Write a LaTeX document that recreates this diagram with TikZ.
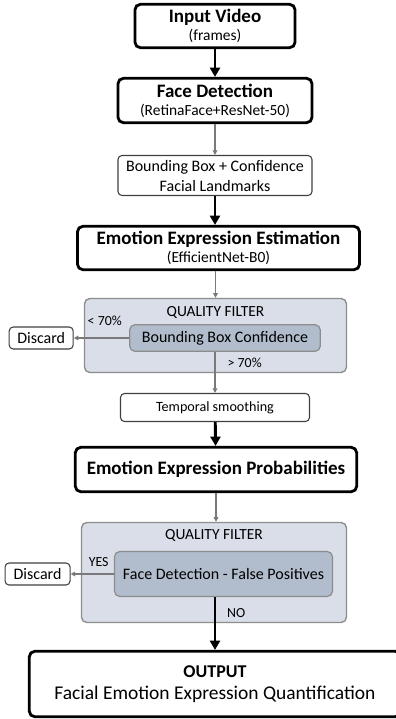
\documentclass[tikz,border=0pt]{standalone}
\usepackage{fontspec}
\setmainfont{Carlito}
\usetikzlibrary{arrows.meta, positioning}

\definecolor{filterfill}{HTML}{D9DEE8}
\definecolor{innerfill}{HTML}{B1BCCC}
\definecolor{filterline}{HTML}{8C8C8C}
\definecolor{thinline}{HTML}{404040}
\definecolor{arrgray}{HTML}{7A7A7A}

\newcommand\bigfnt{\fontsize{14.25}{15}\bfseries\selectfont}
\newcommand\subfnt{\fontsize{11.6}{15}\selectfont}
\newcommand\txtfnt{\fontsize{12}{15}\selectfont}
\newcommand\smallfnt{\fontsize{10.4}{12}\selectfont}

\begin{document}
\begin{tikzpicture}[
    x=0.75pt, y=-0.75pt,
    every node/.style = {inner sep=2pt},
    mainbox/.style = {rectangle, rounded corners=4pt, draw, line width=2.1pt,
                      align=center, fill=white},
    thinbox/.style = {rectangle, rounded corners=3pt, draw=thinline, line width=0.8pt,
                      align=center, fill=white, font=\txtfnt},
    filter/.style  = {rectangle, rounded corners=4pt, draw=filterline, line width=1pt,
                      fill=filterfill},
    inner/.style   = {rectangle, rounded corners=4pt, draw=filterline, line width=0.9pt,
                      fill=innerfill, align=center, font=\txtfnt},
    ftitle/.style  = {font=\fontsize{11.6}{13}\selectfont},
    lbl/.style     = {font=\smallfnt, text=black},
    bigarr/.style  = {-{Triangle[length=7pt, width=7.5pt]}, line width=2.2pt, black},
    grayarr/.style = {-{Triangle[length=3.5pt, width=3.5pt]}, line width=1pt, arrgray}
  ]
  \useasboundingbox (0,0) rectangle (396,719);

  % nodes
  \node[mainbox, minimum width=120pt, minimum height=32.5pt] (in) at (215,26)
       {{\bigfnt Input Video}\\[1.5pt]{\subfnt (frames)}};
  \node[mainbox, minimum width=145.5pt, minimum height=33.25pt] (fd) at (215,100.5)
       {{\bigfnt Face Detection}\\[1.5pt]{\subfnt (RetinaFace+ResNet-50)}};
  \node[thinbox, minimum width=145.5pt, minimum height=30pt] (bb) at (215,175.5)
       {Bounding Box + Confidence\\[0pt]Facial Landmarks};
  \node[mainbox, minimum width=211.5pt, minimum height=32.5pt] (eee) at (218.5,248)
       {{\bigfnt Emotion Expression Estimation}\\[1.5pt]{\subfnt (EfficientNet-B0)}};

  \node[filter, minimum width=196.5pt, minimum height=55.5pt] (q1) at (215.5,335.5) {};
  \node[ftitle] (q1t) at ([yshift=-11.25pt]q1.north) {QUALITY FILTER};
  \node[inner, minimum width=143pt, minimum height=20pt] (bbc) at (225,338)
       {Bounding Box Confidence};
  \node[thinbox, minimum width=48pt, minimum height=16.5pt] (d1) [left=41.5pt of bbc] {Discard};

  \node[thinbox, minimum width=141.75pt, minimum height=21pt, font=\fontsize{10.6}{12}\selectfont]
       (ts) at (215,407.5) {Temporal smoothing};
  \node[mainbox, minimum width=211pt, minimum height=33.25pt] (eep) at (216,469.5)
       {\bigfnt Emotion Expression Probabilities};

  \node[filter, minimum width=198.75pt, minimum height=75pt] (q2) at (214,572.5) {};
  \node[ftitle] (q2t) at ([yshift=-10pt]q2.north) {QUALITY FILTER};
  \node[inner, minimum width=163.5pt, minimum height=33.75pt] (fdfp) at (223.5,574)
       {Face Detection - False Positives};
  \node[thinbox, minimum width=48.75pt, minimum height=16.5pt] (d2) [left=32.5pt of fdfp] {Discard};

  \node[mainbox, minimum width=278.5pt, minimum height=49pt] (out) at (215,684)
       {{\fontsize{13.5}{15}\bfseries\selectfont OUTPUT}\\[5pt]{\fontsize{14.6}{15}\selectfont Facial Emotion Expression Quantification}};

  % edges
  \draw[bigarr]  (in) -- (fd);
  \draw[grayarr] (fd) -- (bb);
  \draw[bigarr]  (bb) -- (bb |- eee.north);
  \draw[grayarr] (eee.south -| q1.north) -- (q1.north);
  \draw[grayarr] (bbc.west) -- (d1.east) node[lbl, pos=0.44, above=6.5pt] (lt70) {< 70\%};
  \draw[grayarr] (bbc.south -| ts.north) -- (ts.north) node[lbl, pos=0.27, right=7pt] (gt70) {> 70\%};
  \draw[bigarr]  (ts) -- (eep);
  \draw[grayarr] (eep) -- (eep |- q2.north);
  \draw[grayarr] (fdfp.west) -- (d2.east) node[lbl, pos=0.35, above=3pt] (yes) {YES};
  \draw[bigarr]  (fdfp.south -| out.north) -- (out.north) node[lbl, pos=0.3, right=6pt] (no) {NO};

\end{tikzpicture}
\end{document}
